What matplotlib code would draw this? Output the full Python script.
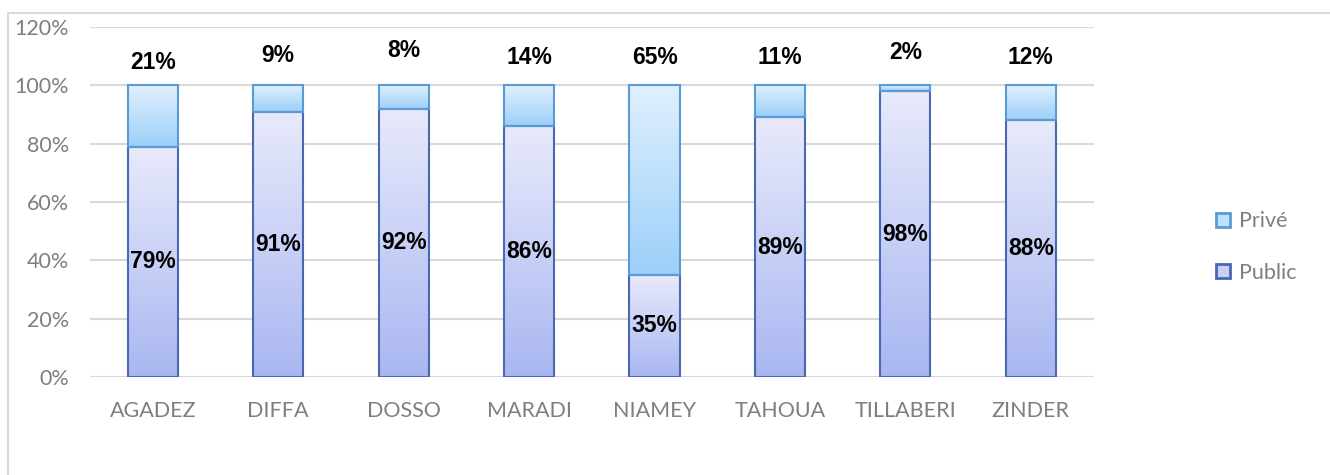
import numpy as np
import matplotlib
matplotlib.use("Agg")
import matplotlib.pyplot as plt
from matplotlib.colors import LinearSegmentedColormap
from matplotlib.lines import Line2D
from matplotlib.patches import Rectangle

regions = ['AGADEZ', 'DIFFA', 'DOSSO', 'MARADI', 'NIAMEY', 'TAHOUA', 'TILLABERI', 'ZINDER']
public = [79, 91, 92, 86, 35, 89, 98, 88]
prive = [21, 9, 8, 14, 65, 11, 2, 12]

# where the "Privé" labels sit (they were placed by hand above the bars)
prive_label_y = [108, 110.4, 112, 109.7, 109.7, 109.4, 111.4, 109.7]

# gradients: bottom colour -> top colour
pub_cmap = LinearSegmentedColormap.from_list('pub', ['#a9b7f1', '#e8eafb'])
priv_cmap = LinearSegmentedColormap.from_list('priv', ['#9ccff9', '#e0f0fd'])
pub_edge = '#4a67b3'
priv_edge = '#5b9bd5'

fig = plt.figure(figsize=(13.3, 4.75), dpi=100)
ax = fig.add_axes([0.0677, 0.2063, 0.7545, 0.7367])

x = np.arange(len(regions))
w = 0.4
grad = np.linspace(0, 1, 256).reshape(-1, 1)

def grad_bars(bottoms, heights, cmap, edge):
    bars = ax.bar(x, heights, w, bottom=bottoms, color='none', edgecolor=edge,
                  linewidth=1.5, zorder=4)
    for b in bars:
        bx, by = b.get_x(), b.get_y()
        im = ax.imshow(grad, cmap=cmap, aspect='auto', origin='lower',
                       extent=[bx, bx + b.get_width(), by, by + b.get_height()],
                       zorder=3)
        im.set_clip_path(b)
    return bars

grad_bars(np.zeros(len(x)), public, pub_cmap, pub_edge)
grad_bars(np.array(public), prive, priv_cmap, priv_edge)

for i in range(len(x)):
    ax.text(x[i], public[i] / 2, f'{public[i]}%', ha='center', va='center',
            fontsize=16.5, fontweight='bold', family='Liberation Sans', zorder=5)
    ax.text(x[i], prive_label_y[i], f'{prive[i]}%', ha='center', va='center',
            fontsize=16.5, fontweight='bold', family='Liberation Sans', zorder=5)

ax.set_xlim(-0.5, len(x) - 0.5)
ax.set_ylim(0, 120)
ax.set_yticks(range(0, 121, 20))
ax.set_yticklabels([f'{v}%' for v in range(0, 121, 20)])
ax.set_xticks(x)
ax.set_xticklabels(regions)
ax.tick_params(length=0, labelsize=15.5, labelcolor='#7f7f7f')
ax.tick_params(axis='x', pad=17)
ax.tick_params(axis='y', pad=15)
for lab in ax.get_xticklabels() + ax.get_yticklabels():
    lab.set_family('Lato')
ax.grid(axis='y', color='#d9d9d9', linewidth=1.5, zorder=0)
ax.set_axisbelow(True)
for s in ax.spines.values():
    s.set_visible(False)

handles = [Rectangle((0, 0), 1, 1, facecolor='#bfe2fb', edgecolor=priv_edge, linewidth=2),
           Rectangle((0, 0), 1, 1, facecolor='#c9d0f6', edgecolor=pub_edge, linewidth=2)]
fig.legend(handles, ['Privé', 'Public'], loc='center left', bbox_to_anchor=(0.9, 0.48),
           frameon=False, prop={'family': 'Lato', 'size': 15.5}, labelcolor='#7f7f7f',
           handlelength=0.65, handleheight=0.65, handletextpad=0.4, labelspacing=1.45)

# outer chart-area border (top and left visible)
fig.add_artist(Line2D([0.006, 0.006], [0.0, 0.973], color='#d9d9d9', linewidth=1.5))
fig.add_artist(Line2D([0.006, 1.0], [0.973, 0.973], color='#d9d9d9', linewidth=1.5))

fig.savefig('out.png', dpi=100)
